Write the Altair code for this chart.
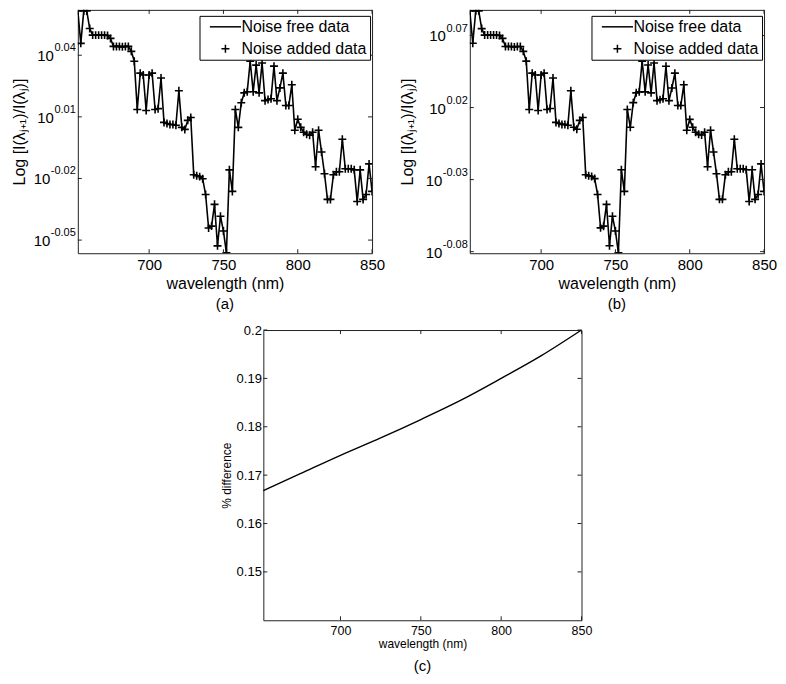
import altair as alt
import pandas as pd

FONT = "Liberation Sans"

# ---------------- data ----------------
wavelength = list(range(652, 851, 2))

# exponent of the log-scaled ratio, panel (a)
log_ratio_a = [
    0.0616, 0.0458, 0.0616, 0.0616, 0.0530, 0.0498, 0.0498, 0.0498, 0.0498, 0.0498,
    0.0496, 0.0482, 0.0443, 0.0443, 0.0443, 0.0441, 0.0443, 0.0443, 0.0419, 0.0371,
    0.0136, 0.0313, 0.0304, 0.0131, 0.0304, 0.0313, 0.0136, 0.0140, 0.0289, 0.0073,
    0.0068, 0.0063, 0.0063, 0.0059, 0.0227, 0.0049, 0.0039, 0.0083, 0.0097, -0.0182,
    -0.0187, -0.0191, -0.0201, -0.0278, -0.0441, -0.0432, -0.0326, -0.0528, -0.0384, -0.0456,
    -0.0562, -0.0158, -0.0263, 0.0136, 0.0049, 0.0169, 0.0217, 0.0222, 0.0371, 0.0222,
    0.0352, 0.0217, 0.0362, 0.0179, 0.0184, 0.0188, 0.0347, 0.0179, 0.0241, 0.0313,
    0.0155, 0.0155, 0.0256, 0.0035, 0.0088, 0.0049, 0.0025, 0.0015, 0.0011, 0.0025,
    -0.0143, 0.0035, -0.0071, -0.0177, -0.0302, -0.0302, -0.0182, -0.0167, -0.0167, -0.0009,
    -0.0153, -0.0153, -0.0153, -0.0158, -0.0312, -0.0158, -0.0302, -0.0278, -0.0129, -0.0263,
]

# exponent of the log-scaled ratio, panel (b)
log_ratio_b = [
    0.0871, 0.0646, 0.0871, 0.0871, 0.0748, 0.0703, 0.0703, 0.0703, 0.0703, 0.0703,
    0.0700, 0.0680, 0.0624, 0.0624, 0.0624, 0.0621, 0.0624, 0.0624, 0.0590, 0.0522,
    0.0187, 0.0439, 0.0426, 0.0180, 0.0426, 0.0439, 0.0187, 0.0193, 0.0405, 0.0097,
    0.0090, 0.0083, 0.0083, 0.0077, 0.0317, 0.0063, 0.0049, 0.0111, 0.0131, -0.0266,
    -0.0274, -0.0279, -0.0293, -0.0403, -0.0635, -0.0623, -0.0472, -0.0759, -0.0554, -0.0657,
    -0.0808, -0.0232, -0.0382, 0.0187, 0.0063, 0.0234, 0.0302, 0.0309, 0.0522, 0.0309,
    0.0495, 0.0302, 0.0509, 0.0248, 0.0255, 0.0261, 0.0487, 0.0248, 0.0336, 0.0439,
    0.0214, 0.0214, 0.0358, 0.0043, 0.0118, 0.0063, 0.0029, 0.0014, 0.0009, 0.0029,
    -0.0211, 0.0043, -0.0108, -0.0259, -0.0437, -0.0437, -0.0266, -0.0245, -0.0245, -0.0020,
    -0.0225, -0.0225, -0.0225, -0.0232, -0.0452, -0.0232, -0.0437, -0.0403, -0.0191, -0.0382,
]

# panel (c)
diff_wavelength = [652, 675, 700, 725, 750, 775, 800, 825, 850]
diff_percent = [0.1668, 0.1703, 0.1741, 0.1777, 0.1815, 0.1855, 0.1900, 0.1947, 0.2000]

x_ticks = [700, 750, 800, 850]
ticks_a = [0.04, 0.01, -0.02, -0.05]
labels_a = ["0.04", "0.01", "-0.02", "-0.05"]
ticks_b = [0.07, 0.02, -0.03, -0.08]
labels_b = ["0.07", "0.02", "-0.03", "-0.08"]
ticks_c = [0.15, 0.16, 0.17, 0.18, 0.19, 0.20]

series_names = ["Noise free data", "Noise added data"]
X_DOMAIN = [652, 850]

LINE_PATH = "M-3.9,0L3.9,0"
PLUS_PATH = "M-1,0L1,0M0,-1L0,1"

W_AB, H_AB = 295, 244
W_C, H_C = 319, 291
FRAME = "#222222"


def inner_ticks(xvals, yvals, w, h, xs, ys, xaxis, yaxis):
    xt = pd.DataFrame({"t": xvals})
    yt = pd.DataFrame({"t": yvals})
    x_enc = alt.X("t:Q", scale=xs, axis=xaxis)
    y_enc = alt.Y("t:Q", scale=ys, axis=yaxis)
    r = dict(color=FRAME, strokeWidth=1)
    bottom = alt.Chart(xt).mark_rule(**r).encode(x=x_enc, y=alt.value(h), y2=alt.value(h - 4))
    top = alt.Chart(xt).mark_rule(**r).encode(x=x_enc, y=alt.value(0), y2=alt.value(4))
    left = alt.Chart(yt).mark_rule(**r).encode(y=y_enc, x=alt.value(0), x2=alt.value(4))
    right = alt.Chart(yt).mark_rule(**r).encode(y=y_enc, x=alt.value(w), x2=alt.value(w - 4))
    return [bottom, top, left, right]


def log_panel(values, ydomain, yticks, ylabels, caption, title_pad, shape_field):
    xs = alt.Scale(domain=X_DOMAIN, nice=False, zero=False)
    ys = alt.Scale(domain=ydomain, nice=False, zero=False)
    df = pd.DataFrame({"wl": wavelength, "v": values})
    df_free = df.assign(**{shape_field: series_names[0]})
    df_added = df.assign(**{shape_field: series_names[1]})

    xaxis = alt.Axis(values=x_ticks, title="wavelength (nm)", format="d",
                     labelFlush=False, ticks=False, domain=False, grid=False,
                     labelFontSize=15, titleFontSize=16, titleFontWeight="normal",
                     labelPadding=4, titlePadding=3)
    yaxis = alt.Axis(values=yticks, labels=False, ticks=False, domain=False, grid=False,
                     title="Log [I(λⱼ₊₁)/I(λⱼ)]", titleFontSize=16,
                     titleFontWeight="normal", titlePadding=title_pad)

    x_enc = alt.X("wl:Q", scale=xs, axis=xaxis)
    y_enc = alt.Y("v:Q", scale=ys, axis=yaxis)

    line = alt.Chart(df_free).mark_line(color="black", strokeWidth=1.6, clip=True).encode(
        x=x_enc, y=y_enc
    )
    pts = alt.Chart(df_added).mark_point(
        filled=False, size=64, strokeWidth=1.6, color="black", opacity=1, clip=True
    ).encode(
        x=x_enc,
        y=y_enc,
        shape=alt.Shape(
            f"{shape_field}:N",
            scale=alt.Scale(domain=series_names, range=[LINE_PATH, PLUS_PATH]),
            sort=series_names,
            legend=alt.Legend(
                title=None, orient="none", legendX=122, legendY=6,
                padding=3, strokeColor="black", fillColor="white",
                labelFontSize=16, labelFont=FONT, labelColor="black",
                symbolSize=64, symbolStrokeWidth=1.5, symbolStrokeColor="black",
                symbolOffset=15, labelOffset=8, rowPadding=6, cornerRadius=0,
            ),
        ),
    )

    tk = pd.DataFrame({"t": yticks, "lab": ylabels})
    y_t = alt.Y("t:Q", scale=ys, axis=yaxis)
    exp_txt = alt.Chart(tk).mark_text(
        align="right", baseline="middle", fontSize=11, dy=-7, font=FONT, color="black"
    ).encode(y=y_t, x=alt.value(-2), text="lab:N")
    ten_pos = alt.Chart(tk).transform_filter("datum.t >= 0").mark_text(
        align="right", baseline="middle", fontSize=15, dy=1, font=FONT, color="black"
    ).encode(y=y_t, x=alt.value(-24), text=alt.value("10"))
    ten_neg = alt.Chart(tk).transform_filter("datum.t < 0").mark_text(
        align="right", baseline="middle", fontSize=15, dy=1, font=FONT, color="black"
    ).encode(y=y_t, x=alt.value(-27.5), text=alt.value("10"))

    layers = [line, pts, exp_txt, ten_pos, ten_neg] + inner_ticks(
        x_ticks, yticks, W_AB, H_AB, xs, ys, xaxis, yaxis)
    return alt.layer(*layers).properties(
        width=W_AB, height=H_AB,
        title=alt.TitleParams(caption, orient="bottom", fontSize=15, fontWeight="normal",
                              font=FONT, color="black", offset=6),
    )


panel_a = log_panel(log_ratio_a, [-0.0564, 0.0621], ticks_a, labels_a, "(a)", 50, "series_a")
panel_b = log_panel(log_ratio_b, [-0.0811, 0.0878], ticks_b, labels_b, "(b)", 54, "series_b")

# panel (c)
xs_c = alt.Scale(domain=X_DOMAIN, nice=False, zero=False)
ys_c = alt.Scale(domain=[0.14, 0.20], nice=False, zero=False)
xaxis_c = alt.Axis(values=x_ticks, title="wavelength (nm)", format="d",
                   labelFlush=False, ticks=False, domain=False, grid=False,
                   labelFontSize=12.5, titleFontSize=12, titleFontWeight="normal",
                   labelPadding=4, titlePadding=2)
yaxis_c = alt.Axis(values=ticks_c, title="% difference", format=".2~f",
                   labelFlush=False, ticks=False, domain=False, grid=False,
                   labelFontSize=13, titleFontSize=12, titleFontWeight="normal",
                   labelPadding=2, titlePadding=3)
df_c = pd.DataFrame({"wl": diff_wavelength, "pct": diff_percent})
line_c = alt.Chart(df_c).mark_line(color="black", strokeWidth=1.4, interpolate="monotone").encode(
    x=alt.X("wl:Q", scale=xs_c, axis=xaxis_c),
    y=alt.Y("pct:Q", scale=ys_c, axis=yaxis_c),
)
panel_c = alt.layer(
    line_c, *inner_ticks(x_ticks, ticks_c, W_C, H_C, xs_c, ys_c, xaxis_c, yaxis_c)
).properties(
    width=W_C, height=H_C,
    title=alt.TitleParams("(c)", orient="bottom", fontSize=15, fontWeight="normal",
                          font=FONT, color="black", offset=9),
)

spacer = alt.Chart(pd.DataFrame({"wl": [0]})).mark_point(opacity=0).encode(
    x=alt.X("wl:Q", axis=None)
).properties(width=141, height=1, view=alt.ViewBackground(stroke="transparent"))

chart = alt.vconcat(
    alt.hconcat(panel_a, panel_b, spacing=13).resolve_scale(shape="independent")
    .resolve_legend(shape="independent"),
    alt.hconcat(spacer, panel_c, spacing=0),
    spacing=10,
).properties(
    padding={"left": 3, "top": 0, "right": 0, "bottom": 0}
).configure_view(
    stroke=FRAME, strokeWidth=1
).configure_axis(
    labelFont=FONT, titleFont=FONT, labelColor="black", titleColor="black"
).configure_legend(
    labelFont=FONT
)

chart.save("out.html", embed_options={"renderer": "svg", "actions": False})
